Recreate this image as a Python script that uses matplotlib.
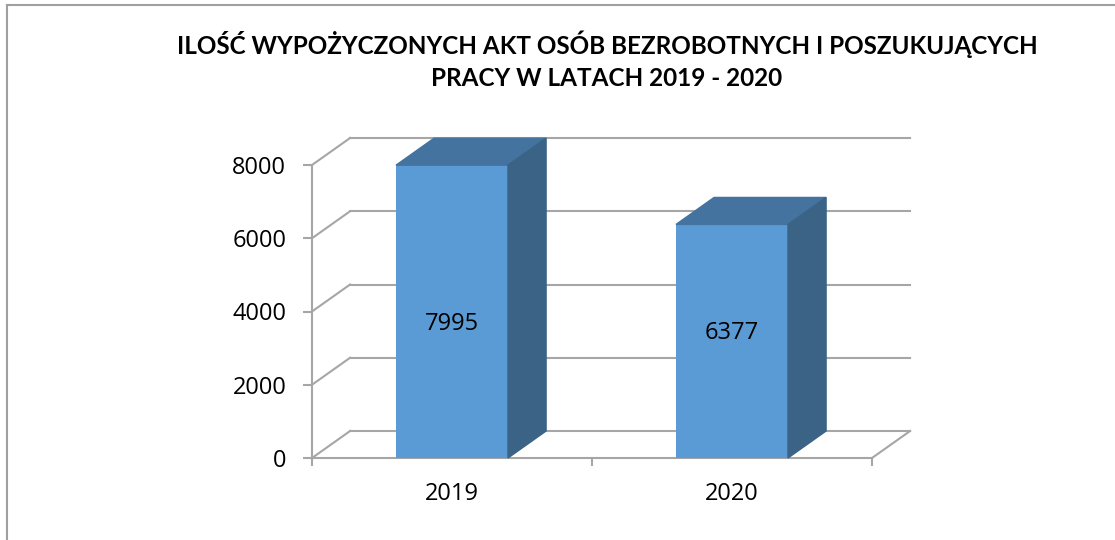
import matplotlib.pyplot as plt
from matplotlib.patches import Polygon
from matplotlib.lines import Line2D

# dane
lata = ['2019', '2020']
ilosc = [7995, 6377]
y_ticks = [0, 2000, 4000, 6000, 8000]

tytul = 'ILOŚĆ WYPOŻYCZONYCH AKT OSÓB BEZROBOTNYCH I POSZUKUJĄCYCH\nPRACY W LATACH 2019 - 2020'

# kolory
front = '#5B9BD5'
top = '#44739F'
side = '#3A6386'
siatka = '#A6A6A6'

# glebokosc "3D" w jednostkach danych
dx = 0.136
dy = 737
szer = 0.4

fnt = ['Open Sans', 'DejaVu Sans']

fig = plt.figure(figsize=(11.15, 5.4), dpi=100)
ax = fig.add_axes([312 / 1115, 1 - 458 / 540, 560 / 1115, 293 / 540])
ax.set_xlim(0, 2)
ax.set_ylim(0, 8000)

# siatka - sciana tylna i boczna
for v in y_ticks:
    ax.add_line(Line2D([0, dx], [v, v + dy], color=siatka, lw=1.5, clip_on=False, zorder=1))
    ax.add_line(Line2D([dx, 2 + dx], [v + dy, v + dy], color=siatka, lw=1.5, clip_on=False, zorder=1))
# podloga - prawa krawedz
ax.add_line(Line2D([2, 2 + dx], [0, dy], color=siatka, lw=1.5, clip_on=False, zorder=1))

# slupki
xs = [i + 0.5 for i in range(len(lata))]
ax.bar(xs, ilosc, width=szer, color=front, zorder=3, clip_on=False)
for x, v in zip(xs, ilosc):
    l, r = x - szer / 2, x + szer / 2
    ax.add_patch(Polygon([[l, v], [r, v], [r + dx, v + dy], [l + dx, v + dy]],
                         closed=True, color=top, zorder=3, clip_on=False))
    ax.add_patch(Polygon([[r, 0], [r + dx, dy], [r + dx, v + dy], [r, v]],
                         closed=True, color=side, zorder=3, clip_on=False))
    ax.text(x, 0.15 * v + 2470, str(v), ha='center', va='center',
            fontsize=17, family=fnt, zorder=4)

# osie
for s in ['top', 'right']:
    ax.spines[s].set_visible(False)
for s in ['left', 'bottom']:
    ax.spines[s].set_color(siatka)
    ax.spines[s].set_linewidth(1.5)
    ax.spines[s].set_zorder(2)
ax.set_facecolor('none')
ax.set_yticks(y_ticks)
ax.set_yticklabels([str(t) for t in y_ticks], fontsize=17, family=fnt)
ax.tick_params(axis='y', length=6.5, width=1.5, color=siatka, pad=12)
ax.set_xticks([0, 1, 2])
ax.set_xticklabels([])
ax.tick_params(axis='x', which='major', length=5.5, width=1.5, color=siatka)
ax.set_xticks(xs, minor=True)
ax.set_xticklabels(lata, minor=True, fontsize=17, family=fnt)
ax.tick_params(axis='x', which='minor', length=0, pad=17)

fig.text(607 / 1115, 1 - 60 / 540, tytul, ha='center', va='center', fontsize=17.5,
         fontweight='bold', family=['Lato', 'DejaVu Sans'], linespacing=1.5)

# ramka wykresu
fig.add_artist(Line2D([7 / 1115, 1], [1 - 5 / 540, 1 - 5 / 540], color='#A0A0A0', lw=1.5))
fig.add_artist(Line2D([7 / 1115, 7 / 1115], [0, 1 - 5 / 540], color='#A0A0A0', lw=1.5))

fig.savefig('out.png', dpi=100)
